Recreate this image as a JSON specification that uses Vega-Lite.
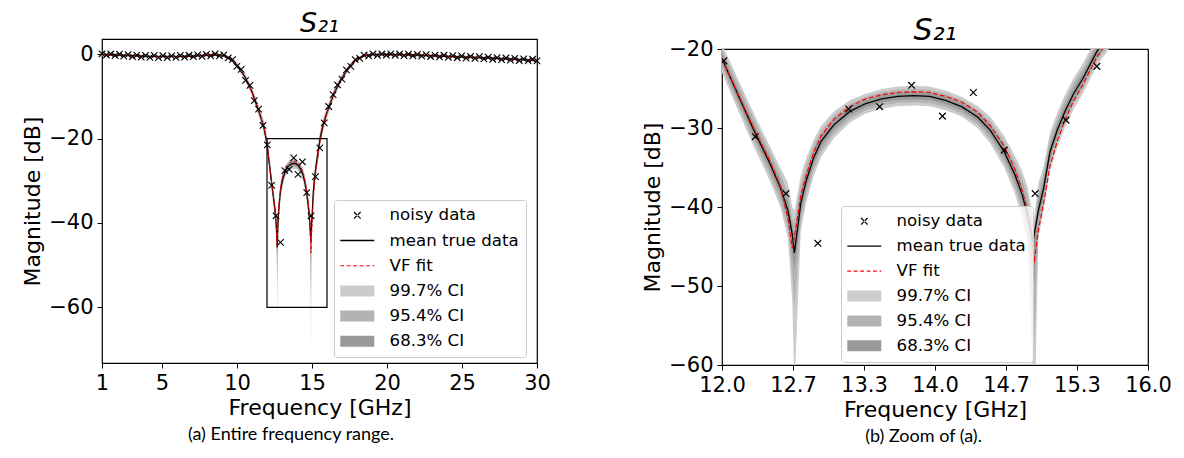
{
  "$schema": "https://vega.github.io/schema/vega-lite/v6.json",
  "background": "white",
  "padding": {"left": 21, "top": 8, "right": 5, "bottom": 5},
  "datasets": {
    "curve": [
      {"f":1.0,"m":-0.05,"v":-0.05,"a1":-0.35,"a2":0.25,"b1":-0.25,"b2":0.15,"c1":-0.16,"c2":0.06},
      {"f":2.0,"m":-0.2,"v":-0.2,"a1":-0.5,"a2":0.1,"b1":-0.4,"b2":0.0,"c1":-0.31,"c2":-0.09},
      {"f":3.0,"m":-0.35,"v":-0.35,"a1":-0.65,"a2":-0.05,"b1":-0.55,"b2":-0.15,"c1":-0.46,"c2":-0.24},
      {"f":4.0,"m":-0.5,"v":-0.5,"a1":-0.8,"a2":-0.2,"b1":-0.7,"b2":-0.3,"c1":-0.61,"c2":-0.39},
      {"f":5.0,"m":-0.55,"v":-0.55,"a1":-0.85,"a2":-0.25,"b1":-0.75,"b2":-0.35,"c1":-0.66,"c2":-0.44},
      {"f":6.0,"m":-0.55,"v":-0.55,"a1":-0.85,"a2":-0.25,"b1":-0.75,"b2":-0.35,"c1":-0.66,"c2":-0.44},
      {"f":7.0,"m":-0.45,"v":-0.45,"a1":-0.75,"a2":-0.15,"b1":-0.65,"b2":-0.25,"c1":-0.56,"c2":-0.34},
      {"f":8.0,"m":-0.25,"v":-0.25,"a1":-0.55,"a2":0.05,"b1":-0.45,"b2":-0.05,"c1":-0.36,"c2":-0.14},
      {"f":8.5,"m":-0.15,"v":-0.15,"a1":-0.45,"a2":0.15,"b1":-0.35,"b2":0.05,"c1":-0.26,"c2":-0.04},
      {"f":9.0,"m":-0.3,"v":-0.3,"a1":-0.6,"a2":0.0,"b1":-0.5,"b2":-0.1,"c1":-0.41,"c2":-0.19},
      {"f":9.5,"m":-0.9,"v":-0.9,"a1":-1.3,"a2":-0.5,"b1":-1.17,"b2":-0.63,"c1":-1.04,"c2":-0.76},
      {"f":10.0,"m":-2.6,"v":-2.6,"a1":-3.2,"a2":-2.0,"b1":-3.01,"b2":-2.19,"c1":-2.82,"c2":-2.38},
      {"f":10.5,"m":-5.2,"v":-5.2,"a1":-6.0,"a2":-4.4,"b1":-5.74,"b2":-4.66,"c1":-5.49,"c2":-4.91},
      {"f":11.0,"m":-8.9,"v":-8.9,"a1":-9.9,"a2":-7.9,"b1":-9.58,"b2":-8.22,"c1":-9.26,"c2":-8.54},
      {"f":11.5,"m":-14.0,"v":-14.0,"a1":-15.3,"a2":-12.7,"b1":-14.88,"b2":-13.12,"c1":-14.47,"c2":-13.53},
      {"f":11.8,"m":-17.4,"v":-17.4,"a1":-18.9,"a2":-15.9,"b1":-18.42,"b2":-16.38,"c1":-17.94,"c2":-16.86},
      {"f":12.0,"m":-21.2,"v":-21.3,"a1":-23.0,"a2":-19.4,"b1":-22.42,"b2":-19.98,"c1":-21.85,"c2":-20.55},
      {"f":12.15,"m":-25.8,"v":-25.7,"a1":-27.8,"a2":-23.8,"b1":-27.16,"b2":-24.44,"c1":-26.52,"c2":-25.08},
      {"f":12.3,"m":-30.3,"v":-30.1,"a1":-32.4,"a2":-28.2,"b1":-31.73,"b2":-28.87,"c1":-31.06,"c2":-29.54},
      {"f":12.45,"m":-34.5,"v":-34.2,"a1":-36.7,"a2":-32.3,"b1":-36.0,"b2":-33.0,"c1":-35.29,"c2":-33.71},
      {"f":12.55,"m":-37.6,"v":-37.4,"a1":-40.1,"a2":-35.1,"b1":-39.3,"b2":-35.9,"c1":-38.5,"c2":-36.7},
      {"f":12.62,"m":-40.5,"v":-41.5,"a1":-44.0,"a2":-37.0,"b1":-42.88,"b2":-38.12,"c1":-41.76,"c2":-39.24},
      {"f":12.66,"m":-43.5,"v":-45.2,"a1":-52.0,"a2":-40.0,"b1":-48.5,"b2":-41.5,"c1":-46.0,"c2":-42.3},
      {"f":12.68,"m":-45.8,"v":-43.8,"a1":-63.0,"a2":-40.5,"b1":-53.0,"b2":-42.0,"c1":-48.0,"c2":-43.5},
      {"f":12.74,"m":-39.5,"v":-38.5,"a1":-43.0,"a2":-36.0,"b1":-41.88,"b2":-37.12,"c1":-40.76,"c2":-38.24},
      {"f":12.79,"m":-36.7,"v":-36.0,"a1":-39.5,"a2":-33.9,"b1":-38.6,"b2":-34.8,"c1":-37.71,"c2":-35.69},
      {"f":12.86,"m":-33.8,"v":-33.1,"a1":-36.1,"a2":-31.5,"b1":-35.36,"b2":-32.24,"c1":-34.63,"c2":-32.97},
      {"f":12.93,"m":-31.7,"v":-31.0,"a1":-33.7,"a2":-29.7,"b1":-33.06,"b2":-30.34,"c1":-32.42,"c2":-30.98},
      {"f":13.05,"m":-29.6,"v":-28.9,"a1":-31.3,"a2":-27.9,"b1":-30.76,"b2":-28.44,"c1":-30.21,"c2":-28.99},
      {"f":13.2,"m":-27.9,"v":-27.3,"a1":-29.3,"a2":-26.5,"b1":-28.85,"b2":-26.95,"c1":-28.4,"c2":-27.4},
      {"f":13.35,"m":-26.9,"v":-26.3,"a1":-28.15,"a2":-25.65,"b1":-27.75,"b2":-26.05,"c1":-27.35,"c2":-26.45},
      {"f":13.5,"m":-26.3,"v":-25.8,"a1":-27.55,"a2":-25.05,"b1":-27.15,"b2":-25.45,"c1":-26.75,"c2":-25.85},
      {"f":13.65,"m":-26.0,"v":-25.5,"a1":-27.25,"a2":-24.75,"b1":-26.85,"b2":-25.15,"c1":-26.45,"c2":-25.55},
      {"f":13.8,"m":-25.9,"v":-25.4,"a1":-27.15,"a2":-24.65,"b1":-26.75,"b2":-25.05,"c1":-26.35,"c2":-25.45},
      {"f":13.95,"m":-26.0,"v":-25.5,"a1":-27.25,"a2":-24.75,"b1":-26.85,"b2":-25.15,"c1":-26.45,"c2":-25.55},
      {"f":14.1,"m":-26.5,"v":-26.0,"a1":-27.75,"a2":-25.25,"b1":-27.35,"b2":-25.65,"c1":-26.95,"c2":-26.05},
      {"f":14.25,"m":-27.3,"v":-26.7,"a1":-28.55,"a2":-26.05,"b1":-28.15,"b2":-26.45,"c1":-27.75,"c2":-26.85},
      {"f":14.4,"m":-28.6,"v":-28.0,"a1":-30.0,"a2":-27.2,"b1":-29.55,"b2":-27.65,"c1":-29.1,"c2":-28.1},
      {"f":14.52,"m":-30.3,"v":-29.7,"a1":-32.0,"a2":-28.6,"b1":-31.46,"b2":-29.14,"c1":-30.91,"c2":-29.69},
      {"f":14.65,"m":-33.0,"v":-32.3,"a1":-35.0,"a2":-31.0,"b1":-34.36,"b2":-31.64,"c1":-33.72,"c2":-32.28},
      {"f":14.75,"m":-35.9,"v":-35.2,"a1":-38.3,"a2":-33.5,"b1":-37.53,"b2":-34.27,"c1":-36.76,"c2":-35.04},
      {"f":14.82,"m":-38.5,"v":-38.0,"a1":-41.5,"a2":-35.5,"b1":-40.54,"b2":-36.46,"c1":-39.58,"c2":-37.42},
      {"f":14.87,"m":-41.0,"v":-40.6,"a1":-44.5,"a2":-37.5,"b1":-43.38,"b2":-38.62,"c1":-42.26,"c2":-39.74},
      {"f":14.92,"m":-44.4,"v":-45.0,"a1":-62.0,"a2":-41.2,"b1":-54.0,"b2":-42.2,"c1":-48.5,"c2":-43.0},
      {"f":14.93,"m":-43.6,"v":-47.1,"a1":-71.0,"a2":-41.5,"b1":-58.0,"b2":-42.5,"c1":-50.0,"c2":-43.2},
      {"f":14.97,"m":-40.5,"v":-43.0,"a1":-44.0,"a2":-37.0,"b1":-42.88,"b2":-38.12,"c1":-41.76,"c2":-39.24},
      {"f":15.02,"m":-37.6,"v":-39.5,"a1":-40.4,"a2":-34.8,"b1":-39.5,"b2":-35.7,"c1":-38.61,"c2":-36.59},
      {"f":15.08,"m":-33.0,"v":-34.8,"a1":-35.4,"a2":-30.6,"b1":-34.63,"b2":-31.37,"c1":-33.86,"c2":-32.14},
      {"f":15.15,"m":-30.2,"v":-31.6,"a1":-32.4,"a2":-28.0,"b1":-31.7,"b2":-28.7,"c1":-30.99,"c2":-29.41},
      {"f":15.22,"m":-27.9,"v":-29.0,"a1":-30.0,"a2":-25.8,"b1":-29.33,"b2":-26.47,"c1":-28.66,"c2":-27.14},
      {"f":15.3,"m":-25.7,"v":-26.6,"a1":-27.7,"a2":-23.7,"b1":-27.06,"b2":-24.34,"c1":-26.42,"c2":-24.98},
      {"f":15.39,"m":-23.7,"v":-24.5,"a1":-25.6,"a2":-21.8,"b1":-24.99,"b2":-22.41,"c1":-24.38,"c2":-23.02},
      {"f":15.52,"m":-20.3,"v":-21.0,"a1":-22.1,"a2":-18.5,"b1":-21.52,"b2":-19.08,"c1":-20.95,"c2":-19.65},
      {"f":15.65,"m":-18.1,"v":-18.6,"a1":-19.7,"a2":-16.5,"b1":-19.19,"b2":-17.01,"c1":-18.68,"c2":-17.52},
      {"f":15.8,"m":-16.0,"v":-16.3,"a1":-17.5,"a2":-14.5,"b1":-17.02,"b2":-14.98,"c1":-16.54,"c2":-15.46},
      {"f":16.0,"m":-13.8,"v":-14.0,"a1":-15.1,"a2":-12.5,"b1":-14.68,"b2":-12.92,"c1":-14.27,"c2":-13.33},
      {"f":16.15,"m":-12.3,"v":-12.4,"a1":-13.5,"a2":-11.1,"b1":-13.12,"b2":-11.48,"c1":-12.73,"c2":-11.87},
      {"f":16.5,"m":-9.0,"v":-9.0,"a1":-10.0,"a2":-8.0,"b1":-9.68,"b2":-8.32,"c1":-9.36,"c2":-8.64},
      {"f":17.0,"m":-5.6,"v":-5.6,"a1":-6.4,"a2":-4.8,"b1":-6.14,"b2":-5.06,"c1":-5.89,"c2":-5.31},
      {"f":17.5,"m":-2.9,"v":-2.9,"a1":-3.5,"a2":-2.3,"b1":-3.31,"b2":-2.49,"c1":-3.12,"c2":-2.68},
      {"f":18.0,"m":-1.1,"v":-1.1,"a1":-1.5,"a2":-0.7,"b1":-1.37,"b2":-0.83,"c1":-1.24,"c2":-0.96},
      {"f":18.5,"m":-0.35,"v":-0.35,"a1":-0.65,"a2":-0.05,"b1":-0.55,"b2":-0.15,"c1":-0.46,"c2":-0.24},
      {"f":19.0,"m":-0.1,"v":-0.1,"a1":-0.4,"a2":0.2,"b1":-0.3,"b2":0.1,"c1":-0.21,"c2":0.01},
      {"f":20.0,"m":-0.05,"v":-0.05,"a1":-0.35,"a2":0.25,"b1":-0.25,"b2":0.15,"c1":-0.16,"c2":0.06},
      {"f":22.0,"m":-0.2,"v":-0.2,"a1":-0.5,"a2":0.1,"b1":-0.4,"b2":0.0,"c1":-0.31,"c2":-0.09},
      {"f":24.0,"m":-0.5,"v":-0.5,"a1":-0.8,"a2":-0.2,"b1":-0.7,"b2":-0.3,"c1":-0.61,"c2":-0.39},
      {"f":26.0,"m":-0.8,"v":-0.8,"a1":-1.1,"a2":-0.5,"b1":-1.0,"b2":-0.6,"c1":-0.91,"c2":-0.69},
      {"f":28.0,"m":-1.1,"v":-1.1,"a1":-1.4,"a2":-0.8,"b1":-1.3,"b2":-0.9,"c1":-1.21,"c2":-0.99},
      {"f":30.0,"m":-1.5,"v":-1.5,"a1":-1.8,"a2":-1.2,"b1":-1.7,"b2":-1.3,"c1":-1.61,"c2":-1.39}
    ],
    "noise": [
      {"f":1.0,"y":0.1},{"f":1.29,"y":-0.2},{"f":1.58,"y":0.05},{"f":1.87,"y":-0.35},{"f":2.16,"y":0.0},
      {"f":2.45,"y":-0.45},{"f":2.74,"y":-0.1},{"f":3.03,"y":-0.55},{"f":3.32,"y":-0.2},{"f":3.61,"y":-0.7},
      {"f":3.9,"y":-0.3},{"f":4.19,"y":-0.75},{"f":4.48,"y":-0.3},{"f":4.77,"y":-0.8},{"f":5.06,"y":-0.35},
      {"f":5.35,"y":-0.8},{"f":5.64,"y":-0.4},{"f":5.93,"y":-0.75},{"f":6.22,"y":-0.3},{"f":6.51,"y":-0.7},
      {"f":6.8,"y":-0.25},{"f":7.09,"y":-0.6},{"f":7.38,"y":-0.15},{"f":7.67,"y":-0.5},{"f":7.96,"y":-0.05},
      {"f":8.25,"y":-0.4},{"f":8.54,"y":0.05},{"f":8.83,"y":-0.4},{"f":9.12,"y":-0.15},{"f":9.41,"y":-0.9},
      {"f":9.7,"y":-1.3},{"f":9.99,"y":-2.9},{"f":10.28,"y":-3.6},{"f":10.57,"y":-6.2},{"f":10.86,"y":-7.4},
      {"f":11.15,"y":-11.0},{"f":11.44,"y":-13.0},{"f":11.73,"y":-16.9},
      {"f":12.017,"y":-21.5},{"f":12.313,"y":-31.1},{"f":12.6,"y":-38.3},{"f":12.9,"y":-44.6},{"f":13.19,"y":-27.6},
      {"f":13.48,"y":-27.3},{"f":13.78,"y":-24.6},{"f":14.07,"y":-28.5},{"f":14.36,"y":-25.5},{"f":14.65,"y":-32.8},
      {"f":14.94,"y":-38.3},{"f":15.23,"y":-29.0},{"f":15.52,"y":-22.2},
      {"f":15.816,"y":-16.3},{"f":16.111,"y":-12.4},{"f":16.407,"y":-9.6},{"f":16.702,"y":-7.3},{"f":16.998,"y":-5.9},
      {"f":17.293,"y":-3.7},{"f":17.589,"y":-2.9},{"f":17.884,"y":-1.3},{"f":18.18,"y":-1.0},{"f":18.475,"y":-0.2},
      {"f":18.771,"y":-0.4},{"f":19.066,"y":0.1},{"f":19.362,"y":-0.3},{"f":19.657,"y":0.05},{"f":19.953,"y":-0.25},
      {"f":20.248,"y":0.1},{"f":20.544,"y":-0.3},{"f":20.839,"y":0.05},{"f":21.135,"y":-0.35},{"f":21.43,"y":0.0},
      {"f":21.726,"y":-0.4},{"f":22.021,"y":-0.05},{"f":22.317,"y":-0.45},{"f":22.612,"y":-0.1},{"f":22.908,"y":-0.55},
      {"f":23.203,"y":-0.2},{"f":23.499,"y":-0.65},{"f":23.794,"y":-0.25},{"f":24.09,"y":-0.75},{"f":24.385,"y":-0.35},
      {"f":24.681,"y":-0.85},{"f":24.976,"y":-0.4},{"f":25.272,"y":-0.95},{"f":25.567,"y":-0.5},{"f":25.863,"y":-1.0},
      {"f":26.158,"y":-0.6},{"f":26.454,"y":-1.1},{"f":26.749,"y":-0.7},{"f":27.045,"y":-1.2},{"f":27.34,"y":-0.8},
      {"f":27.636,"y":-1.3},{"f":27.931,"y":-0.9},{"f":28.227,"y":-1.4},{"f":28.522,"y":-1.0},{"f":28.818,"y":-1.5},
      {"f":29.113,"y":-1.1},{"f":29.409,"y":-1.6},{"f":29.704,"y":-1.2},{"f":30.0,"y":-1.6}
    ],
    "box": [{"x1":12,"x2":16,"y1":-60,"y2":-20}],
    "leg": [{"s":"noisy data"},{"s":"mean true data"},{"s":"VF fit"},{"s":"99.7% CI"},{"s":"95.4% CI"},{"s":"68.3% CI"}],
    "spacer": [{"k":1}]
  },
  "hconcat": [
    {
      "spacing": 0,
      "resolve": {
        "scale": {"x": "independent", "y": "independent", "color": "independent", "shape": "independent"},
        "legend": {"color": "independent", "shape": "independent"},
        "axis": {"x": "independent", "y": "independent"}
      },
      "vconcat": [
        {"width": 10, "height": 1, "view": {"stroke": null}, "data": {"name": "spacer"}, "mark": {"type": "rect", "fill": "transparent", "strokeWidth": 0}},
        {
          "width": 435,
          "height": 324,
          "title": {"text": "S₂₁", "font": "DejaVu Sans", "fontSize": 27, "fontStyle": "italic", "fontWeight": "normal", "frame": "group", "offset": 1},
          "layer": [
            {"data": {"name": "curve"}, "mark": {"type": "area", "color": "#cccccc"},
             "encoding": {"x": {"field": "f", "type": "quantitative", "scale": {"domain": [1, 30], "nice": false}, "axis": {"values": [1,5,10,15,20,25,30]}, "title": "Frequency [GHz]"},
                          "y": {"field": "a1", "type": "quantitative", "scale": {"domain": [-73.2, 3.6], "nice": false, "zero": false}, "axis": {"values": [0,-20,-40,-60]}, "title": "Magnitude [dB]"},
                          "y2": {"field": "a2"}}},
            {"data": {"name": "curve"}, "mark": {"type": "area", "color": "#b3b3b3"},
             "encoding": {"x": {"field": "f", "type": "quantitative", "title": "Frequency [GHz]"},
                          "y": {"field": "b1", "type": "quantitative", "title": "Magnitude [dB]"}, "y2": {"field": "b2"}}},
            {"data": {"name": "curve"}, "mark": {"type": "area", "color": "#999999"},
             "encoding": {"x": {"field": "f", "type": "quantitative", "title": "Frequency [GHz]"},
                          "y": {"field": "c1", "type": "quantitative", "title": "Magnitude [dB]"}, "y2": {"field": "c2"}}},
            {"data": {"name": "curve"}, "mark": {"type": "line", "color": "black", "strokeWidth": 1.2},
             "encoding": {"x": {"field": "f", "type": "quantitative", "title": "Frequency [GHz]"},
                          "y": {"field": "m", "type": "quantitative", "title": "Magnitude [dB]"}}},
            {"data": {"name": "curve"}, "mark": {"type": "line", "color": "red", "strokeWidth": 1, "strokeDash": [3.7, 1.6]},
             "encoding": {"x": {"field": "f", "type": "quantitative", "title": "Frequency [GHz]"},
                          "y": {"field": "v", "type": "quantitative", "title": "Magnitude [dB]"}}},
            {"data": {"name": "noise"}, "mark": {"type": "point", "shape": "M-1,-1L1,1M-1,1L1,-1", "filled": false, "stroke": "black", "strokeWidth": 1.1, "size": 42, "opacity": 1},
             "encoding": {"x": {"field": "f", "type": "quantitative", "title": "Frequency [GHz]"},
                          "y": {"field": "y", "type": "quantitative", "title": "Magnitude [dB]"}}},
            {"data": {"name": "box"}, "mark": {"type": "rect", "fill": null, "fillOpacity": 0, "stroke": "black", "strokeWidth": 1.2},
             "encoding": {"x": {"field": "x1", "type": "quantitative", "title": "Frequency [GHz]"}, "x2": {"field": "x2"},
                          "y": {"field": "y1", "type": "quantitative", "title": "Magnitude [dB]"}, "y2": {"field": "y2"}}},
            {"data": {"name": "leg"}, "transform": [{"filter": "datum.s === 'none'"}],
             "mark": {"type": "point", "filled": true},
             "encoding": {
               "color": {"field": "s", "type": "nominal",
                 "scale": {"domain": ["noisy data","mean true data","VF fit","99.7% CI","95.4% CI","68.3% CI"], "range": ["black","black","red","#cccccc","#b3b3b3","#999999"]},
                 "legend": {"orient": "none", "legendX": 232, "legendY": 161, "title": null, "rowPadding": 8.2}},
               "shape": {"field": "s", "type": "nominal",
                 "scale": {"domain": ["noisy data","mean true data","VF fit","99.7% CI","95.4% CI","68.3% CI"],
                           "range": ["M-0.75,-0.58L-0.58,-0.75L0.75,0.58L0.58,0.75Z M-0.75,0.58L-0.58,0.75L0.75,-0.58L0.58,-0.75Z",
                                     "M-3.4,-0.13L3.4,-0.13L3.4,0.13L-3.4,0.13Z",
                                     "M-3.4,-0.11L-2.65,-0.11L-2.65,0.11L-3.4,0.11Z M-2.11,-0.11L-1.36,-0.11L-1.36,0.11L-2.11,0.11Z M-0.82,-0.11L-0.07,-0.11L-0.07,0.11L-0.82,0.11Z M0.48,-0.11L1.22,-0.11L1.22,0.11L0.48,0.11Z M1.77,-0.11L2.52,-0.11L2.52,0.11L1.77,0.11Z M3.06,-0.11L3.4,-0.11L3.4,0.11L3.06,0.11Z",
                                     "M-3.4,-1.1L3.4,-1.1L3.4,1.1L-3.4,1.1Z",
                                     "M-3.4,-1.1L3.4,-1.1L3.4,1.1L-3.4,1.1Z",
                                     "M-3.4,-1.1L3.4,-1.1L3.4,1.1L-3.4,1.1Z"]},
                 "legend": {"orient": "none", "legendX": 232, "legendY": 161, "title": null, "rowPadding": 8.2}}
             }}
          ]
        }
      ],
      "title": {"text": "(a) Entire frequency range.", "orient": "bottom", "font": "Lato", "fontSize": 18, "fontWeight": "normal", "anchor": "middle", "offset": 7, "dx": 5}
    },
    {
      "spacing": 0,
      "resolve": {
        "scale": {"x": "independent", "y": "independent", "color": "independent", "shape": "independent"},
        "legend": {"color": "independent", "shape": "independent"},
        "axis": {"x": "independent", "y": "independent"}
      },
      "vconcat": [
        {"width": 10, "height": 7, "view": {"stroke": null}, "data": {"name": "spacer"}, "mark": {"type": "rect", "fill": "transparent", "strokeWidth": 0}},
        {
          "width": 426,
          "height": 316,
          "title": {"text": "S₂₁", "font": "DejaVu Sans", "fontSize": 30, "fontStyle": "italic", "fontWeight": "normal", "frame": "group", "offset": -8},
          "layer": [
            {"data": {"name": "curve"}, "mark": {"type": "area", "color": "#cccccc", "clip": true},
             "encoding": {"x": {"field": "f", "type": "quantitative", "scale": {"domain": [12, 16], "nice": false}, "axis": {"values": [12, 12.6667, 13.3333, 14, 14.6667, 15.3333, 16], "format": ".1f"}, "title": "Frequency [GHz]"},
                          "y": {"field": "a1", "type": "quantitative", "scale": {"domain": [-60, -20], "nice": false, "zero": false}, "axis": {"values": [-20,-30,-40,-50,-60]}, "title": "Magnitude [dB]"},
                          "y2": {"field": "a2"}}},
            {"data": {"name": "curve"}, "mark": {"type": "area", "color": "#b3b3b3", "clip": true},
             "encoding": {"x": {"field": "f", "type": "quantitative", "title": "Frequency [GHz]"},
                          "y": {"field": "b1", "type": "quantitative", "title": "Magnitude [dB]"}, "y2": {"field": "b2"}}},
            {"data": {"name": "curve"}, "mark": {"type": "area", "color": "#999999", "clip": true},
             "encoding": {"x": {"field": "f", "type": "quantitative", "title": "Frequency [GHz]"},
                          "y": {"field": "c1", "type": "quantitative", "title": "Magnitude [dB]"}, "y2": {"field": "c2"}}},
            {"data": {"name": "curve"}, "mark": {"type": "line", "color": "black", "strokeWidth": 1.3, "clip": true},
             "encoding": {"x": {"field": "f", "type": "quantitative", "title": "Frequency [GHz]"},
                          "y": {"field": "m", "type": "quantitative", "title": "Magnitude [dB]"}}},
            {"data": {"name": "curve"}, "mark": {"type": "line", "color": "red", "strokeWidth": 1.2, "strokeDash": [5, 2.2], "clip": true},
             "encoding": {"x": {"field": "f", "type": "quantitative", "title": "Frequency [GHz]"},
                          "y": {"field": "v", "type": "quantitative", "title": "Magnitude [dB]"}}},
            {"data": {"name": "noise"}, "mark": {"type": "point", "shape": "M-1,-1L1,1M-1,1L1,-1", "filled": false, "stroke": "black", "strokeWidth": 1.2, "size": 45, "opacity": 1, "clip": true},
             "encoding": {"x": {"field": "f", "type": "quantitative", "title": "Frequency [GHz]"},
                          "y": {"field": "y", "type": "quantitative", "title": "Magnitude [dB]"}}},
            {"data": {"name": "leg"}, "transform": [{"filter": "datum.s === 'none'"}],
             "mark": {"type": "point", "filled": true},
             "encoding": {
               "color": {"field": "s", "type": "nominal",
                 "scale": {"domain": ["noisy data","mean true data","VF fit","99.7% CI","95.4% CI","68.3% CI"], "range": ["black","black","red","#cccccc","#b3b3b3","#999999"]},
                 "legend": {"orient": "none", "legendX": 119, "legendY": 157, "title": null, "rowPadding": 7.9}},
               "shape": {"field": "s", "type": "nominal",
                 "scale": {"domain": ["noisy data","mean true data","VF fit","99.7% CI","95.4% CI","68.3% CI"],
                           "range": ["M-0.75,-0.58L-0.58,-0.75L0.75,0.58L0.58,0.75Z M-0.75,0.58L-0.58,0.75L0.75,-0.58L0.58,-0.75Z",
                                     "M-3.4,-0.13L3.4,-0.13L3.4,0.13L-3.4,0.13Z",
                                     "M-3.4,-0.11L-2.65,-0.11L-2.65,0.11L-3.4,0.11Z M-2.11,-0.11L-1.36,-0.11L-1.36,0.11L-2.11,0.11Z M-0.82,-0.11L-0.07,-0.11L-0.07,0.11L-0.82,0.11Z M0.48,-0.11L1.22,-0.11L1.22,0.11L0.48,0.11Z M1.77,-0.11L2.52,-0.11L2.52,0.11L1.77,0.11Z M3.06,-0.11L3.4,-0.11L3.4,0.11L3.06,0.11Z",
                                     "M-3.4,-1.1L3.4,-1.1L3.4,1.1L-3.4,1.1Z",
                                     "M-3.4,-1.1L3.4,-1.1L3.4,1.1L-3.4,1.1Z",
                                     "M-3.4,-1.1L3.4,-1.1L3.4,1.1L-3.4,1.1Z"]},
                 "legend": {"orient": "none", "legendX": 119, "legendY": 157, "title": null, "rowPadding": 7.9}}
             }}
          ]
        }
      ],
      "title": {"text": "(b) Zoom of (a).", "orient": "bottom", "font": "Lato", "fontSize": 18, "fontWeight": "normal", "anchor": "middle", "offset": 7, "dx": 17}
    }
  ],
  "spacing": 90,
  "resolve": {
    "scale": {"x": "independent", "y": "independent", "color": "independent", "shape": "independent"},
    "legend": {"color": "independent", "shape": "independent"},
    "axis": {"x": "independent", "y": "independent"}
  },
  "config": {
    "view": {"stroke": "black", "strokeWidth": 1.2},
    "axis": {
      "grid": false, "domain": false,
      "labelFont": "DejaVu Sans", "labelFontSize": 21, "labelColor": "black",
      "titleFont": "DejaVu Sans", "titleFontSize": 22, "titleFontWeight": "normal", "titleColor": "black",
      "tickColor": "black", "tickSize": 5, "tickWidth": 1, "labelPadding": 4, "titlePadding": 4,
      "labelFlush": false, "labelOverlap": false
    },
    "legend": {
      "labelFont": "DejaVu Sans", "labelFontSize": 16.6, "labelColor": "black",
      "symbolSize": 100, "symbolStrokeWidth": 0, "symbolOffset": 8, "labelOffset": 24,
      "padding": 7, "fillColor": "rgba(255,255,255,0.8)", "strokeColor": "#cccccc", "cornerRadius": 3, "symbolOpacity": 1
    },
    "title": {"color": "black"}
  }
}
